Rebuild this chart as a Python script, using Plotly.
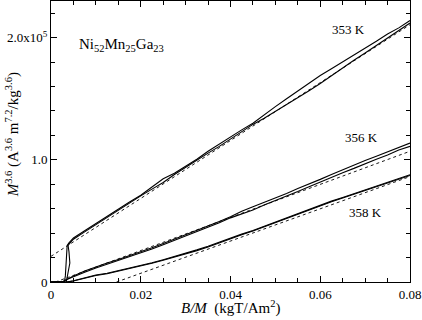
import plotly.graph_objects as go

# B/M values (kgT/Am^2)
x_grid = [0.005, 0.0075, 0.01, 0.0125, 0.015, 0.0175, 0.02, 0.0225, 0.025, 0.0275,
          0.03, 0.0325, 0.035, 0.0375, 0.04, 0.0425, 0.045, 0.0475, 0.05, 0.0525,
          0.055, 0.0575, 0.06, 0.0625, 0.065, 0.0675, 0.07, 0.0725, 0.075, 0.0775, 0.08]

# 353 K (M^3.6 in units of 1e5)
x353_start_a = [0.0, 0.003, 0.0032, 0.0033, 0.0034, 0.0036, 0.004]
y353_start_a = [0.0, 0.005, 0.05, 0.15, 0.25, 0.30, 0.32]
x353_start_b = [0.0034, 0.0038, 0.0042, 0.0040, 0.0038, 0.0045]
y353_start_b = [0.0, 0.08, 0.155, 0.25, 0.30, 0.33]
y353_a = [0.36, 0.42, 0.48, 0.54, 0.595, 0.655, 0.71, 0.775, 0.845, 0.89,
          0.945, 1.005, 1.07, 1.13, 1.185, 1.245, 1.30, 1.37, 1.435, 1.50,
          1.565, 1.63, 1.69, 1.745, 1.80, 1.855, 1.91, 1.97, 2.03, 2.08, 2.14]
y353_b = [0.35, 0.41, 0.47, 0.53, 0.59, 0.65, 0.705, 0.76, 0.815, 0.88,
          0.94, 1.0, 1.055, 1.11, 1.17, 1.23, 1.29, 1.34, 1.395, 1.45,
          1.51, 1.565, 1.625, 1.69, 1.755, 1.815, 1.875, 1.935, 1.995, 2.06, 2.12]

# 356 K
x356_start = [0.0, 0.0025, 0.0035]
y356_start = [0.0, 0.0, 0.02]
y356_a = [0.05, 0.09, 0.125, 0.155, 0.185, 0.215, 0.245, 0.28, 0.315, 0.35,
          0.385, 0.42, 0.455, 0.495, 0.535, 0.58, 0.615, 0.65, 0.685, 0.725,
          0.765, 0.80, 0.84, 0.88, 0.92, 0.955, 0.995, 1.03, 1.065, 1.105, 1.137]
y356_b = [0.04, 0.08, 0.115, 0.145, 0.175, 0.205, 0.235, 0.27, 0.305, 0.34,
          0.375, 0.41, 0.445, 0.485, 0.525, 0.555, 0.59, 0.63, 0.665, 0.705,
          0.74, 0.78, 0.82, 0.855, 0.895, 0.93, 0.97, 1.005, 1.04, 1.08, 1.11]

# 358 K
x358_start = [0.0, 0.0035]
y358_start = [0.0, 0.0]
y358_a = [0.01, 0.035, 0.057, 0.072, 0.092, 0.112, 0.132, 0.157, 0.182, 0.207,
          0.233, 0.263, 0.293, 0.327, 0.362, 0.392, 0.422, 0.457, 0.492, 0.527,
          0.562, 0.597, 0.632, 0.662, 0.692, 0.722, 0.752, 0.787, 0.817, 0.847, 0.878]
y358_b = [0.008, 0.032, 0.053, 0.068, 0.088, 0.108, 0.128, 0.153, 0.178, 0.203,
          0.228, 0.257, 0.287, 0.322, 0.357, 0.387, 0.417, 0.452, 0.487, 0.522,
          0.557, 0.592, 0.627, 0.657, 0.687, 0.717, 0.747, 0.782, 0.812, 0.842, 0.872]

# linear fits (dashed)
fit353_x = [0.0, 0.08]
fit353_y = [0.21, 2.106]
fit356_x = [0.001, 0.08]
fit356_y = [0.0, 1.07]
fit358_x = [0.0146, 0.08]
fit358_y = [0.0, 0.863]

# tick labels
x_tickvals = [0, 0.02, 0.04, 0.06, 0.08]
x_ticktext = ["0", "0.02", "0.04", "0.06", "0.08"]
y_tickvals = [0, 1, 2]
y_ticktext = ["0", "1.0", "2.0x10<sup>5</sup>"]

FONT = "Liberation Serif, Times New Roman, Times, serif"
line = dict(color="black", width=1.1)
dash = dict(color="black", width=0.9, dash="3px,3px")

fig = go.Figure()
def add(x, y, ln):
    fig.add_trace(go.Scatter(x=x, y=y, mode="lines", line=ln, showlegend=False, hoverinfo="skip"))

add(x353_start_a + x_grid, y353_start_a + y353_a, line)
add(x353_start_b + x_grid, y353_start_b + y353_b, line)
add(x356_start + x_grid, y356_start + y356_a, line)
add(x356_start + x_grid, y356_start + y356_b, line)
add(x358_start + x_grid, y358_start + y358_a, line)
add(x358_start + x_grid, y358_start + y358_b, line)
add(fit353_x, fit353_y, dash)
add(fit356_x, fit356_y, dash)
add(fit358_x, fit358_y, dash)

ann = dict(showarrow=False, font=dict(family=FONT, size=13, color="black"))
fig.add_annotation(x=0.0662, y=2.07, text="353 K", **ann)
fig.add_annotation(x=0.0691, y=1.18, text="356 K", **ann)
fig.add_annotation(x=0.0700, y=0.566, text="358 K", **ann)
fig.add_annotation(x=0.0058, y=1.94, xanchor="left",
                   text="Ni<sub>52</sub>Mn<sub>25</sub>Ga<sub>23</sub>",
                   showarrow=False, font=dict(family=FONT, size=15, color="black"))

# axis titles placed as paper annotations for exact positioning
title_font = dict(family=FONT, size=15, color="black")
fig.add_annotation(xref="paper", yref="paper", x=0.5, y=-0.09,
                   xanchor="center", yanchor="middle", showarrow=False,
                   text="<i>B/M</i>  (kgT/Am<sup>2</sup>)", font=title_font)
fig.add_annotation(xref="paper", yref="paper", x=-0.108, y=0.523,
                   xanchor="center", yanchor="middle", showarrow=False, textangle=-90,
                   text="<i>M</i><sup>3.6</sup> (A<sup>3.6</sup> m<sup>7.2</sup>/kg<sup>3.6</sup>)",
                   font=title_font)

axis_common = dict(showgrid=False, zeroline=False, showline=True, linecolor="black",
                   linewidth=1, mirror="ticks", ticks="inside", ticklen=6,
                   tickcolor="black", tickwidth=1, automargin=False,
                   tickfont=dict(family=FONT, size=13, color="black"))

fig.update_xaxes(range=[0, 0.08], tickvals=x_tickvals, ticktext=x_ticktext,
                 minor=dict(dtick=0.005, ticks="inside", ticklen=4, tickcolor="black"),
                 **axis_common)
fig.update_yaxes(range=[0, 2.3], tickvals=y_tickvals, ticktext=y_ticktext,
                 minor=dict(dtick=0.2, ticks="inside", ticklen=4, tickcolor="black"),
                 **axis_common)

fig.update_layout(width=422, height=320, margin=dict(l=51, r=12, t=1, b=38),
                  plot_bgcolor="white", paper_bgcolor="white",
                  font=dict(family=FONT, color="black"))

fig.write_html("out.html", config={"displayModeBar": False},
               post_script="document.body.style.margin='0';document.body.style.padding='0';")
